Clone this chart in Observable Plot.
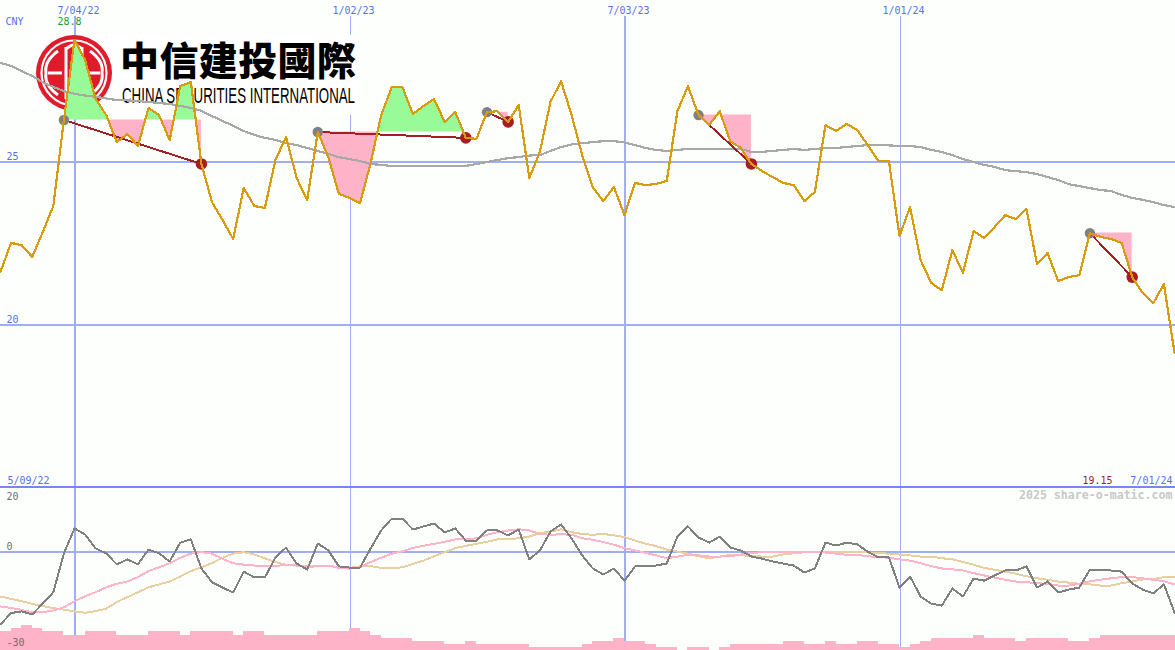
<!DOCTYPE html>
<html>
<head>
<meta charset="utf-8">
<script src="https://cdn.jsdelivr.net/npm/d3@7"></script>
<script src="https://cdn.jsdelivr.net/npm/@observablehq/plot@0.6"></script>
<style>
  html, body { margin: 0; padding: 0; background: #fdfffd; overflow: hidden; }
  svg { display: block; }
</style>
</head>
<body>
<div id="chart"></div>
<script>
const firstWeek = "2022-05-16";
const tickDates = ["2022-07-04", "2023-01-02", "2023-07-03", "2024-01-01"];
const tickLabels = ["7/04/22", "1/02/23", "7/03/23", "1/01/24"];
const price = [
  21.63,22.52,22.45,22.09,22.85,23.65,26.29,28.75,28.13,26.93,
  26.44,25.61,25.86,25.49,26.66,26.44,25.67,27.33,27.45,24.94,
  23.77,23.22,22.64,24.20,23.65,23.59,25.06,25.77,24.51,23.83,
  25.92,25.15,24.02,23.90,23.74,24.97,26.44,27.30,27.30,26.47,
  26.72,26.93,26.23,26.53,25.74,25.71,26.53,26.56,26.23,26.75,
  24.51,25.31,26.84,27.48,26.44,25.21,24.23,23.80,24.23,23.37,
  24.36,24.29,24.33,24.42,26.56,27.33,26.44,26.13,26.56,25.64,
  25.43,24.94,24.72,24.54,24.36,24.29,23.80,24.08,26.13,25.95,
  26.17,25.98,25.52,25.03,25.03,22.73,23.62,21.99,21.29,21.07,
  22.30,21.60,22.88,22.67,23.01,23.37,23.25,23.56,21.87,22.21,
  21.35,21.47,21.53,22.82,22.70,22.64,22.52,21.47,20.98,20.67,
  21.26,19.15
];
const movingAverage = [
  28.04,27.95,27.79,27.64,27.45,27.30,27.18,27.09,27.04,27.00,
  26.95,26.90,26.89,26.87,26.84,26.81,26.78,26.72,26.66,26.57,
  26.41,26.26,26.11,25.95,25.83,25.74,25.68,25.58,25.52,25.43,
  25.34,25.25,25.15,25.09,25.03,24.94,24.91,24.88,24.88,24.88,
  24.88,24.88,24.88,24.88,24.88,24.94,25.00,25.06,25.12,25.15,
  25.20,25.21,25.34,25.46,25.54,25.58,25.61,25.64,25.64,25.60,
  25.52,25.43,25.37,25.34,25.37,25.40,25.40,25.40,25.40,25.40,
  25.40,25.31,25.31,25.34,25.37,25.40,25.37,25.40,25.43,25.43,
  25.46,25.49,25.52,25.52,25.51,25.49,25.49,25.46,25.37,25.31,
  25.21,25.09,25.00,24.91,24.85,24.75,24.72,24.69,24.63,24.54,
  24.45,24.32,24.26,24.20,24.14,24.11,23.99,23.90,23.84,23.77,
  23.68,23.62
];
const oscillator = [
  -24.8,-20.9,-20.3,-21.4,-17.6,-13.7,-0.3,8.3,6.2,1.4,
  -0.3,-4.1,-2.4,-4.1,1.0,-0.3,-3.1,3.4,4.5,-5.5,
  -10.3,-12.1,-13.8,-6.6,-8.6,-8.6,-1.7,1.7,-3.8,-5.9,
  3.1,0.7,-4.8,-5.2,-5.2,1.4,7.6,11.7,11.7,7.9,
  9.0,10.0,6.9,8.3,4.1,4.1,7.6,7.6,5.9,7.9,
  -2.4,0.7,7.2,9.7,4.8,-1.0,-5.5,-7.6,-5.5,-9.7,
  -4.8,-4.8,-4.5,-3.8,5.5,9.0,5.2,3.4,5.5,1.7,
  0.7,-1.4,-2.1,-3.1,-3.8,-4.5,-6.9,-5.5,3.4,2.4,
  3.4,2.8,0.3,-1.7,-1.7,-12.1,-8.3,-15.2,-17.6,-18.3,
  -12.4,-15.2,-9.0,-9.7,-7.9,-6.2,-6.2,-4.8,-12.1,-10.0,
  -13.8,-12.8,-12.1,-5.9,-5.9,-6.2,-6.6,-10.7,-12.8,-14.1,
  -11.0,-20.7
];
const pinkSignal = [
  -18.6,-19.1,-19.8,-20.6,-20.6,-20.0,-18.9,-16.8,-15.1,-13.7,
  -12.0,-10.8,-10.0,-8.5,-6.4,-5.1,-3.7,-1.8,-0.4,0.1,
  -0.4,-2.2,-3.7,-4.2,-4.5,-4.8,-4.7,-4.2,-4.5,-5.1,
  -4.7,-4.5,-5.3,-5.6,-5.1,-3.3,-1.8,-0.4,0.4,1.6,
  2.3,3.0,3.7,4.5,4.6,4.9,6.1,7.0,7.6,8.0,
  7.6,6.4,6.1,6.3,6.1,4.9,4.4,3.6,2.7,1.5,
  0.7,-0.1,-1.0,-2.0,-1.4,-0.8,-1.0,-1.4,-1.4,-1.3,
  -0.7,-0.2,0.1,0.3,0.3,0.3,0.3,0.2,0.0,-0.4,
  -0.8,-0.8,-1.3,-1.6,-1.8,-2.4,-2.8,-3.7,-4.7,-5.5,
  -5.8,-6.2,-7.1,-7.9,-8.7,-9.4,-10.0,-10.2,-10.6,-10.8,
  -11.4,-11.4,-10.8,-9.9,-9.4,-8.9,-8.5,-8.5,-8.9,-9.4,
  -9.9,-11.0
];
const tanSignal = [
  -15.2,-16.0,-16.8,-17.7,-18.5,-19.2,-19.7,-20.3,-20.8,-20.2,
  -19.4,-17.1,-15.4,-13.7,-12.0,-11.0,-10.0,-8.3,-6.4,-5.1,
  -3.7,-1.8,-0.4,0.1,-0.7,-2.0,-3.3,-4.2,-4.5,-4.7,
  -4.7,-4.5,-5.1,-5.3,-4.8,-4.7,-5.3,-5.4,-5.1,-3.9,
  -2.8,-1.3,0.1,1.5,2.3,3.0,3.7,4.5,4.6,4.9,
  5.5,6.7,7.2,8.0,7.0,6.4,6.1,6.4,5.9,5.3,
  4.1,3.0,2.2,1.0,0.3,-0.4,-1.3,-2.0,-1.4,-0.8,
  -1.0,-1.1,-1.4,-1.4,-0.7,-0.3,0.1,0.3,0.3,0.3,
  0.2,0.2,0.0,-0.2,-0.4,-0.7,-1.0,-1.4,-1.4,-2.0,
  -2.3,-3.3,-4.2,-5.3,-6.0,-6.6,-7.3,-8.2,-8.9,-9.4,
  -10.0,-10.4,-10.8,-11.0,-11.4,-11.4,-10.6,-10.0,-9.3,-9.1,
  -8.5,-8.6
];
const volumeBars = [
  -27.2,-26.2,-25.1,-26.2,-27.2,-27.2,-28.6,-28.6,-27.2,-27.2,
  -27.2,-28.6,-28.6,-28.6,-27.2,-27.2,-27.2,-28.6,-27.2,-27.2,
  -27.2,-27.2,-28.6,-27.2,-27.2,-28.6,-28.6,-28.6,-28.6,-28.6,
  -27.2,-27.2,-27.2,-26.2,-27.2,-28.6,-29.7,-29.7,-29.7,-30.7,
  -30.7,-30.7,-31.7,-31.7,-30.7,-31.7,-31.7,-31.7,-31.7,-31.7,
  -32.8,-32.8,-32.8,-32.8,-32.8,-31.7,-30.7,-30.7,-29.7,-30.7,
  -30.7,-31.7,-32.8,-32.8,-33.8,-32.8,-32.8,-33.8,-32.8,-31.7,
  -31.7,-31.7,-31.7,-31.7,-30.7,-30.7,-31.7,-31.7,-30.7,-31.7,
  -31.7,-30.7,-30.7,-31.7,-31.7,-32.8,-31.7,-30.7,-29.7,-29.7,
  -29.7,-29.7,-28.6,-29.7,-29.7,-29.7,-30.7,-29.7,-29.7,-29.7,
  -29.7,-30.7,-30.7,-29.7,-28.6,-28.6,-28.6,-28.6,-28.6,-28.6,
  -28.6,-28.6
];
const signalStart = [6, 30, 46, 66, 103];
const signalEnd = [19, 44, 48, 71, 107];
const priceGrid = [20, 25];

const GRID = "#a0aff5", SEP = "#7688f0", BLUE = "#5a70ee", AMBER = "#d99a0c",
      GREY = "#808080", MA = "#a8a8a8", PINK = "#ffb3c8", TAN = "#e8cfa2",
      GREEN = "#98fb98", RED = "#a51e22", MONO = "DejaVu Sans Mono";

const firstDate = d3.isoParse(firstWeek);
const rows = price.map((p, i) => ({
  date: d3.utcWeek.offset(firstDate, i),
  next: d3.utcWeek.offset(firstDate, i + 1),
  price: p, ma: movingAverage[i], osc: oscillator[i],
  pink: pinkSignal[i], tan: tanSignal[i], vol: volumeBars[i]
}));
const ticks = tickDates.map((d, i) => ({ date: d3.isoParse(d), label: tickLabels[i], width: i % 2 ? 1 : 2 }));
const xDomain = [new Date("2022-05-15T09:00:00Z"), new Date("2024-07-01T00:00:00Z")];
const crisp = { shapeRendering: "crispEdges" };
const nudge = { dx: -1, dy: 0.5 };
const common = {
  width: 1175, marginTop: 0, marginRight: 0, marginBottom: 0, marginLeft: 0,
  style: { background: "transparent", fontFamily: MONO, fontSize: "10px", overflow: "hidden" }
};
const signals = signalStart.map((s, k) => ({
  s, rows: rows.slice(s, signalEnd[k] + 1), base: price[s],
  a: rows[s], b: rows[signalEnd[k]]
}));

function logo() {
  const g = d3.create("svg:g").attr("text-anchor", "start");
  g.append("rect").attr("x", 33).attr("y", 35).attr("width", 325).attr("height", 80).attr("fill", "#ffffff");
  const c = g.append("g").attr("transform", "translate(74,73)");
  c.append("circle").attr("r", 38).attr("fill", "#e01b2b");
  c.append("circle").attr("r", 32.5).attr("fill", "none").attr("stroke", "#fff").attr("stroke-width", 2.2);
  const w = c.append("g").attr("fill", "none").attr("stroke", "#fff").attr("stroke-width", 3);
  w.append("path").attr("d", "M-8,-26V26M8,-26V26M-16,-22Q-30,-12 -28,0Q-30,12 -16,22M16,-22Q30,-12 28,0Q30,12 16,22");
  w.append("path").attr("d", "M-26,0H-12M26,0H12M-8,-24Q0,-32 8,-24M-8,24Q0,32 8,24");
  g.append("text").text("中信建投國際")
    .attr("x", 120).attr("y", 75)
    .attr("font-family", "Noto Sans CJK TC").attr("font-weight", 900).attr("font-size", 39)
    .attr("textLength", 236).attr("lengthAdjust", "spacing").attr("fill", "#000");
  g.append("text").text("CHINA SECURITIES INTERNATIONAL")
    .attr("x", 122).attr("y", 103)
    .attr("font-family", "Liberation Sans Narrow, Liberation Sans").attr("font-size", 22)
    .attr("textLength", 233).attr("lengthAdjust", "spacingAndGlyphs").attr("fill", "#000");
  return g.node();
}

const textStyle = { fontFamily: MONO, fontSize: 10 };

const upperPlot = Plot.plot({
  ...common, height: 488,
  x: { type: "utc", domain: xDomain, range: [0, 1175], axis: null },
  y: { domain: [15, 29.97], range: [487, -1], axis: null },
  marks: [
    Plot.ruleY(priceGrid, { stroke: GRID, strokeWidth: 2, ...crisp }),
    Plot.ruleX(ticks, { x: "date", y1: 15, y2: 29.45, stroke: GRID, strokeWidth: "width", ...crisp }),
    logo,
    ...signals.map(e => Plot.differenceY(e.rows, {
      x: "date", y1: () => e.base, y2: "price",
      positiveFill: GREEN, negativeFill: PINK, fillOpacity: 1, stroke: "none", ...crisp, ...nudge
    })),
    Plot.line(rows, { x: "date", y: "ma", stroke: MA, strokeWidth: 2.2, ...crisp, ...nudge }),
    Plot.link(signals, { x1: e => e.a.date, y1: e => e.a.price, x2: e => e.b.date, y2: e => e.b.price,
      stroke: RED, strokeWidth: 2, ...crisp, ...nudge }),
    Plot.dot(signals, { x: e => e.a.date, y: e => e.a.price, r: 5.2, fill: GREY, stroke: "none", ...nudge }),
    Plot.dot(signals, { x: e => e.b.date, y: e => e.b.price, r: 5.8, fill: RED, stroke: "none", ...nudge }),
    Plot.line(rows, { x: "date", y: "price", stroke: AMBER, strokeWidth: 2.2, ...crisp, ...nudge }),
    Plot.ruleY([15], { stroke: SEP, strokeWidth: 2, dy: -0.5, ...crisp }),
    Plot.axisY(priceGrid, { anchor: "left", tickSize: 0, tickPadding: -6, textAnchor: "start", dy: -5, fill: BLUE, ...textStyle, label: null }),
    Plot.axisX(ticks.map(t => t.date), { anchor: "top", tickSize: 0, tickPadding: -13, dx: 3, fill: BLUE, ...textStyle, label: null,
      tickFormat: d => ticks.find(t => +t.date === +d).label }),
    Plot.text(["CNY"], { frameAnchor: "top-left", dx: 5, dy: 17, fill: BLUE, ...textStyle }),
    Plot.text(["28.8"], { frameAnchor: "top-left", dx: 57, dy: 17, fill: "#1c9c1c", ...textStyle }),
    Plot.text(["5/09/22"], { frameAnchor: "bottom-left", dx: 7, dy: -5, fill: BLUE, ...textStyle }),
    Plot.text(["19.15"], { frameAnchor: "bottom-right", dx: -63, dy: -5, fill: RED, ...textStyle }),
    Plot.text(["7/01/24"], { frameAnchor: "bottom-right", dx: -3, dy: -5, fill: BLUE, ...textStyle })
  ]
});

const greyText = "#6e6e6e";
const lowerPlot = Plot.plot({
  ...common, height: 162,
  x: { type: "utc", domain: xDomain, range: [0, 1175], axis: null },
  y: { domain: [-33.8, 22.07], range: [162, 0], axis: null },
  marks: [
    Plot.ruleY([0], { stroke: GRID, strokeWidth: 2, dy: -0.5, ...crisp }),
    Plot.ruleX(ticks, { x: "date", stroke: GRID, strokeWidth: "width", ...crisp }),
    Plot.rectY(rows, { x1: "date", x2: "next", y1: -33.8, y2: "vol", fill: PINK, dx: -1, ...crisp }),
    Plot.line(rows, { x: "date", y: "tan", stroke: TAN, strokeWidth: 2, dx: -1, ...crisp }),
    Plot.line(rows, { x: "date", y: "pink", stroke: PINK, strokeWidth: 2, dx: -1, ...crisp }),
    Plot.line(rows, { x: "date", y: "osc", stroke: GREY, strokeWidth: 2, dx: -1, ...crisp }),
    Plot.axisY([20], { anchor: "left", tickSize: 0, tickPadding: -6, textAnchor: "start", dy: 2, fill: greyText, ...textStyle, label: null }),
    Plot.axisY([0], { anchor: "left", tickSize: 0, tickPadding: -6, textAnchor: "start", dy: -6, fill: greyText, ...textStyle, label: null }),
    Plot.axisY([-30], { anchor: "left", tickSize: 0, tickPadding: -6, textAnchor: "start", dy: 3, fill: greyText, ...textStyle, label: null, tickFormat: d => "-" + Math.abs(d) }),
    Plot.text(["2025 share-o-matic.com"], { frameAnchor: "top-right", dx: -3, dy: 2, fill: "#c8c8c8", fontFamily: MONO, fontWeight: "bold", fontSize: 11.6 })
  ]
});

document.getElementById("chart").append(upperPlot, lowerPlot);
</script>
</body>
</html>
